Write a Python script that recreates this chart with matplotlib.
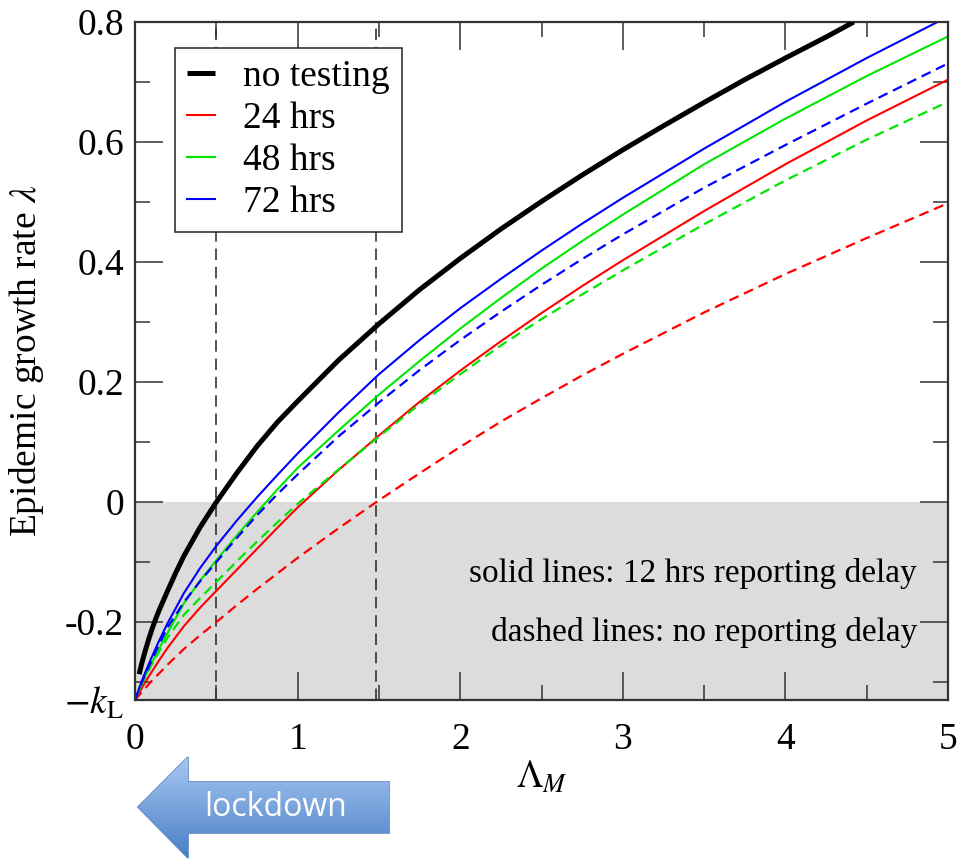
import numpy as np
import matplotlib
matplotlib.use("Agg")
import matplotlib.pyplot as plt
from matplotlib.patches import Polygon

plt.rcParams['font.family'] = ['Liberation Serif', 'DejaVu Serif']
plt.rcParams['mathtext.fontset'] = 'stix'

lam = [0, 0.025, 0.05, 0.1, 0.15, 0.2, 0.3, 0.4, 0.5, 0.625, 0.75, 0.875, 1.0,
       1.25, 1.5, 1.75, 2.0, 2.25, 2.5, 2.75, 3.0, 3.5, 4.0, 4.5, 5.0]

# no testing
lam_none = [0.025, 0.04, 0.06, 0.08, 0.1, 0.125, 0.15, 0.2, 0.25, 0.3, 0.4, 0.5,
            0.625, 0.75, 0.875, 1.0, 1.25, 1.5, 1.75, 2.0, 2.25, 2.5, 2.75, 3.0,
            3.25, 3.5, 3.75, 4.0, 4.25, 4.42]
rate_none = [-0.287, -0.270, -0.250, -0.232, -0.215, -0.196, -0.179, -0.148, -0.118,
             -0.090, -0.042, 0.0, 0.048, 0.093, 0.133, 0.168, 0.236, 0.297, 0.354,
             0.406, 0.455, 0.501, 0.545, 0.587, 0.627, 0.666, 0.704, 0.740, 0.775, 0.800]

# solid: 12 hrs reporting delay
rate_24 = [-0.33, -0.318, -0.306, -0.284, -0.263, -0.243, -0.207, -0.176, -0.148,
           -0.113, -0.078, -0.043, -0.009, 0.053, 0.111, 0.167, 0.219, 0.268, 0.315,
           0.360, 0.403, 0.485, 0.563, 0.636, 0.704]
rate_48 = [-0.33, -0.313, -0.297, -0.270, -0.243, -0.218, -0.169, -0.131, -0.097,
           -0.056, -0.017, 0.021, 0.057, 0.119, 0.179, 0.235, 0.289, 0.340, 0.389,
           0.435, 0.479, 0.563, 0.639, 0.710, 0.776]
rate_72 = [-0.33, -0.310, -0.292, -0.260, -0.230, -0.202, -0.152, -0.110, -0.073,
           -0.031, 0.008, 0.045, 0.081, 0.149, 0.213, 0.270, 0.323, 0.372, 0.419,
           0.464, 0.507, 0.589, 0.667, 0.740, 0.809]

# dashed: no reporting delay
rate_24_nd = [-0.33, -0.322, -0.314, -0.299, -0.285, -0.271, -0.245, -0.222, -0.200,
              -0.172, -0.145, -0.119, -0.093, -0.044, 0.003, 0.048, 0.092, 0.134,
              0.173, 0.211, 0.247, 0.316, 0.380, 0.440, 0.498]
rate_48_nd = [-0.33, -0.314, -0.299, -0.272, -0.248, -0.226, -0.188, -0.160, -0.133,
              -0.099, -0.066, -0.034, -0.003, 0.054, 0.109, 0.163, 0.213, 0.261,
              0.305, 0.346, 0.386, 0.463, 0.536, 0.604, 0.667]
rate_72_nd = [-0.33, -0.312, -0.295, -0.265, -0.236, -0.209, -0.167, -0.132, -0.100,
              -0.060, -0.022, 0.013, 0.046, 0.109, 0.166, 0.220, 0.270, 0.317, 0.362,
              0.405, 0.446, 0.524, 0.595, 0.664, 0.731]

k_L = 0.33
marks = [0.5, 1.48]

ytick_vals = [-k_L, -0.2, 0, 0.2, 0.4, 0.6, 0.8]
ytick_labels = [r'$-k_{\mathrm{L}}$', '-0.2', '0', '0.2', '0.4', '0.6', '0.8']

fig = plt.figure(figsize=(9.58, 8.6), dpi=100)
ax = fig.add_axes([0.141, 0.186, 0.8486, 0.7884])

ax.axhspan(-k_L, 0, color='#dcdcdc', zorder=0, lw=0)
for m in marks:
    ax.axvline(m, color='#222222', lw=1.1, dashes=(7.5, 4.5), zorder=1)

red, green, blue = '#ff0000', '#00e600', '#0000ff'
ax.plot(lam_none, rate_none, color='black', lw=3.6, label='no testing', zorder=3,
        solid_capstyle='butt')
ax.plot(lam, rate_24, color=red, lw=1.5, label='24 hrs', zorder=2)
ax.plot(lam, rate_48, color=green, lw=1.5, label='48 hrs', zorder=2)
ax.plot(lam, rate_72, color=blue, lw=1.5, label='72 hrs', zorder=2)
ax.plot(lam, rate_24_nd, color=red, lw=1.6, dashes=(4.5, 2.7), zorder=2)
ax.plot(lam, rate_48_nd, color=green, lw=1.6, dashes=(4.5, 2.7), zorder=2)
ax.plot(lam, rate_72_nd, color=blue, lw=1.6, dashes=(4.5, 2.7), zorder=2)

ax.set_xlim(0, 5)
ax.set_ylim(-k_L, 0.8)
ax.set_xticks(range(6))
ax.set_xticks(np.arange(0.5, 5, 1.0), minor=True)
ax.set_yticks(ytick_vals)
ax.set_yticklabels(ytick_labels)
ax.set_yticks([-0.3, -0.1, 0.1, 0.3, 0.5, 0.7], minor=True)
ax.tick_params(which='both', direction='in', top=True, right=True,
               color='#333333', width=1.1, labelsize=27)
ax.tick_params(which='major', length=20)
ax.tick_params(which='minor', length=10.5)
ax.tick_params(axis='x', pad=16)
ax.tick_params(axis='y', pad=8)
for s in ax.spines.values():
    s.set_linewidth(1.6)
    s.set_color('#333333')

ax.set_ylabel(r'Epidemic growth rate $\lambda$', fontsize=27)
ax.yaxis.set_label_coords(-0.11, 0.5)
ax.set_xlabel(r'$\Lambda_M$', fontsize=27)
ax.xaxis.set_label_coords(0.5, -0.088)

ax.text(0.962, 0.187, 'solid lines: 12 hrs reporting delay', transform=ax.transAxes,
        ha='right', va='center', fontsize=24)
ax.text(0.962, 0.100, 'dashed lines: no reporting delay', transform=ax.transAxes,
        ha='right', va='center', fontsize=24)

leg = ax.legend(loc='upper left', bbox_to_anchor=(0.049, 0.962), borderaxespad=0,
                fontsize=27, handlelength=0.75, handletextpad=0.75, labelspacing=0.2,
                borderpad=0.32, fancybox=False, framealpha=1, edgecolor='#222222')
leg.get_frame().set_linewidth(1.1)

# lockdown arrow below the axis
ov = fig.add_axes([0, 0, 1, 1], zorder=5)
ov.set_xlim(0, 958)
ov.set_ylim(860, 0)
ov.axis('off')
arrow_pts = [(138, 807), (188, 757), (188, 782), (389, 782), (389, 833),
             (188, 833), (188, 858), (138, 807)]
poly = Polygon(arrow_pts, closed=True, facecolor='none', edgecolor='#5b86c4', lw=1.2)
ov.add_patch(poly)
grad = np.linspace(0, 1, 256).reshape(-1, 1)
cmap = matplotlib.colors.LinearSegmentedColormap.from_list('bl', ['#a7c8f2', '#4a7ec6'])
im = ov.imshow(grad, cmap=cmap, extent=(138, 389, 858, 757), aspect='auto', zorder=1)
im.set_clip_path(poly)
ov.text(276, 808, 'lockdown', color='white', fontsize=23, ha='center', va='center',
        family=['Open Sans', 'DejaVu Sans'], zorder=3)

fig.savefig('out.png', dpi=100)
